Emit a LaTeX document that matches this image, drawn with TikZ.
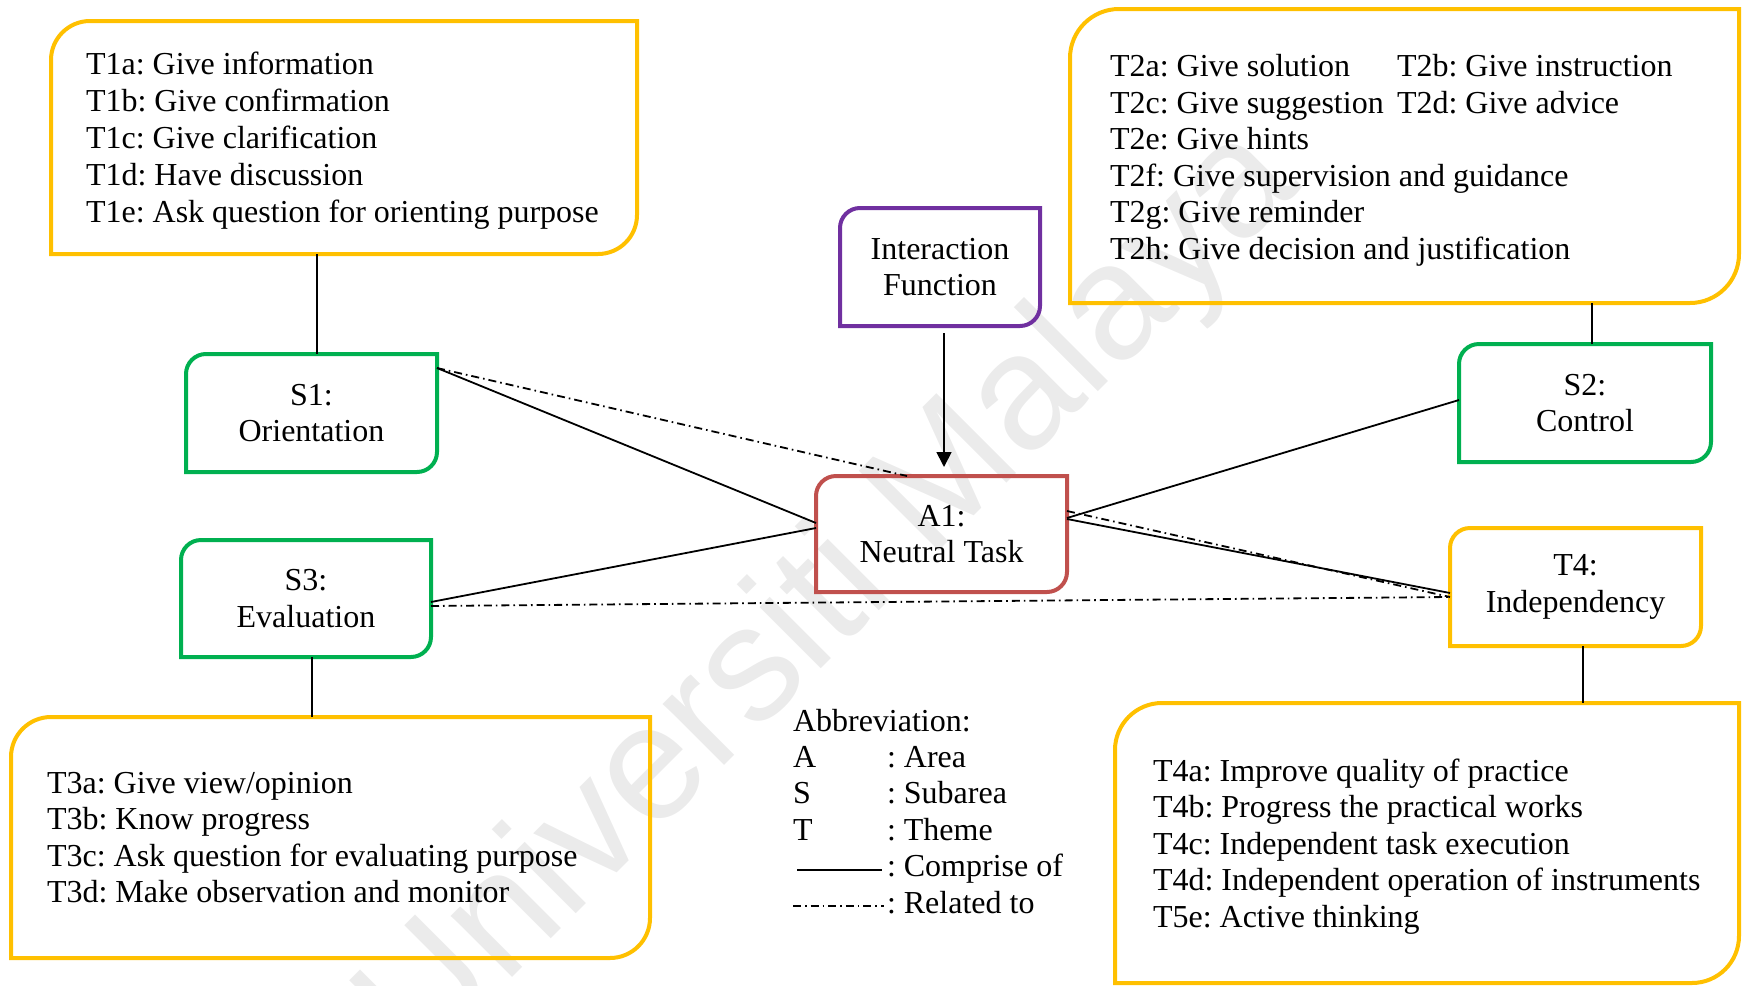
\documentclass[tikz,border=0pt]{standalone}
\usepackage{fontspec}
\setmainfont{Liberation Serif}
\newfontfamily\wmfont{Liberation Sans}
\usetikzlibrary{calc,fit,arrows.meta}
\definecolor{themeyellow}{HTML}{FFC000}
\definecolor{themegreen}{HTML}{00B050}
\definecolor{themepurple}{HTML}{7030A0}
\definecolor{themered}{HTML}{C0504D}
\frenchspacing

% outline with the top-left and bottom-right corners rounded
% #1 node name, #2 corner radius (px), #3 colour
\newcommand\diagbox[3]{%
  \draw[boxline,#3]
    (#1.south west) -- ($(#1.north west)+(0,#2)$)
    .. controls ($(#1.north west)+(0,0.448*#2)$) and ($(#1.north west)+(0.448*#2,0)$) ..
    ($(#1.north west)+(#2,0)$) -- (#1.north east) -- ($(#1.south east)+(0,-#2)$)
    .. controls ($(#1.south east)+(0,-0.448*#2)$) and ($(#1.south east)+(-0.448*#2,0)$) ..
    ($(#1.south east)+(-#2,0)$) -- cycle;}

\begin{document}
\begin{tikzpicture}[x=0.5pt,y=-0.5pt,
  font=\fontsize{16}{18.2}\selectfont,
  area/.style={inner sep=0pt, outer sep=0pt},
  boxtext/.style={align=center, inner sep=0pt, outer sep=0pt},
  boxline/.style={line width=2pt, line join=miter},
  comprise/.style={line width=0.9pt},
  related/.style={line width=0.9pt, dash pattern=on 4pt off 2pt on 0.8pt off 2pt},
  itemtext/.style={anchor=base west, inner sep=0pt, outer sep=0pt},
  arrowline/.style={line width=0.9pt, -{Triangle[length=7.5pt,width=7.5pt]}},
]
\useasboundingbox (0,0) rectangle (1742,986);

% watermark
\begin{scope}
  \clip (0,0) rectangle (1742,986);
  \node[rotate=45, text=black!8, inner sep=0pt,
        font=\wmfont\fontsize{82}{82}\selectfont] (wm) at (832,598) {Universiti Malaya};
\end{scope}

% box frames
\node[area, fit={(51,21) (637,254)}] (t1box) {};
\node[area, fit={(1070,9) (1739,303)}] (t2box) {};
\node[area, fit={(11,717) (650,958)}] (t3box) {};
\node[area, fit={(1115,703) (1739,983)}] (t4box) {};
\node[area, fit={(186,354) (437,472)}] (s1) {};
\node[area, fit={(1459,344) (1711,462)}] (s2) {};
\node[area, fit={(181,540) (431,657)}] (s3) {};
\node[area, fit={(1450,528) (1701,646)}] (t4) {};
\node[area, fit={(816,476) (1067,592)}] (a1) {};
\node[area, fit={(840,208) (1040,326)}] (ifn) {};

\diagbox{t1box}{39}{themeyellow}
\diagbox{t2box}{49}{themeyellow}
\diagbox{t3box}{40}{themeyellow}
\diagbox{t4box}{47}{themeyellow}
\diagbox{s1}{20}{themegreen}
\diagbox{s2}{20}{themegreen}
\diagbox{s3}{20}{themegreen}
\diagbox{t4}{20}{themeyellow}
\diagbox{a1}{20}{themered}
\diagbox{ifn}{20}{themepurple}

% box titles
\node[boxtext] (s1txt)  at (s1.center)  {S1:\\Orientation};
\node[boxtext] (s2txt)  at (s2.center)  {S2:\\Control};
\node[boxtext] (s3txt)  at (s3.center)  {S3:\\Evaluation};
\node[boxtext] (t4txt)  at (t4.center)  {T4:\\Independency};
\node[boxtext] (a1txt)  at (a1.center)  {A1:\\Neutral Task};
\node[boxtext] (ifntxt) at (ifn.center) {Interaction\\Function};

% theme lists
\node[itemtext] (t1a) at (86,74)  {T1a: Give information};
\node[itemtext] (t1b) at (86,111) {T1b: Give confirmation};
\node[itemtext] (t1c) at (86,148) {T1c: Give clarification};
\node[itemtext] (t1d) at (86,185) {T1d: Have discussion};
\node[itemtext] (t1e) at (86,222) {T1e: Ask question for orienting purpose};

\node[itemtext] (t2a) at (1110,76)  {T2a: Give solution};
\node[itemtext] (t2b) at (1397,76)  {T2b: Give instruction};
\node[itemtext] (t2c) at (1110,113) {T2c: Give suggestion};
\node[itemtext] (t2d) at (1397,113) {T2d: Give advice};
\node[itemtext] (t2e) at (1110,149) {T2e: Give hints};
\node[itemtext] (t2f) at (1110,186) {T2f: Give supervision and guidance};
\node[itemtext] (t2g) at (1110,222) {T2g: Give reminder};
\node[itemtext] (t2h) at (1110,259) {T2h: Give decision and justification};

\node[itemtext] (t3a) at (47,793)   {T3a: Give view/opinion};
\node[itemtext] (t3b) at (47,829.5) {T3b: Know progress};
\node[itemtext] (t3c) at (47,866)   {T3c: Ask question for evaluating purpose};
\node[itemtext] (t3d) at (47,902)   {T3d: Make observation and monitor};

\node[itemtext] (t4a) at (1153,781)   {T4a: Improve quality of practice};
\node[itemtext] (t4b) at (1153,817.5) {T4b: Progress the practical works};
\node[itemtext] (t4c) at (1153,854)   {T4c: Independent task execution};
\node[itemtext] (t4d) at (1153,890.5) {T4d: Independent operation of instruments};
\node[itemtext] (t5e) at (1153,927)   {T5e: Active thinking};

% vertical links between subareas and their theme lists
\coordinate (c1) at ($(s1.north)+(5.5,0)$);
\coordinate (c2) at ($(s2.north)+(7,0)$);
\coordinate (c3) at ($(s3.south)+(6,0)$);
\coordinate (c4) at ($(t4.south)+(7.5,0)$);
\draw[comprise] (c1) -- (c1 |- t1box.south);
\draw[comprise] (c2) -- (c2 |- t2box.south);
\draw[comprise] (c3) -- (c3 |- t3box.north);
\draw[comprise] (c4) -- (c4 |- t4box.north);

% links around the area node
\draw[comprise] ($(s1.north east)+(0,14)$) -- ($(a1.west)+(0,-11)$);
\draw[related]  ($(s1.north east)+(0,14)$) -- ($(a1.north west)+(91,0)$);
\draw[comprise] ($(s3.east)+(0,3.5)$) -- ($(a1.west)+(0,-6)$);
\draw[related]  ($(s3.east)+(0,7.5)$) -- ($(t4.west)+(0,10)$);
\draw[comprise] ($(a1.east)+(0,-16)$) -- ($(s2.west)+(0,-3)$);
\draw[comprise] ($(a1.east)+(0,-15)$) -- ($(t4.west)+(0,6)$);
\draw[related]  ($(a1.east)+(0,-23)$) -- ($(t4.west)+(0,10)$);
\draw[arrowline] ($(ifn.south)+(4,7)$) -- ($(a1.north)+(2.5,-9)$);

% abbreviations
\node[itemtext] (ab0) at (793,731) {Abbreviation:};
\node[itemtext] (ab1) at (793,767) {A};
\node[itemtext] (ab2) at (793,803) {S};
\node[itemtext] (ab3) at (793,840) {T};
\node[itemtext] (ab1t) at (887,767) {: Area};
\node[itemtext] (ab2t) at (887,803) {: Subarea};
\node[itemtext] (ab3t) at (887,840) {: Theme};
\node[itemtext] (ab4t) at (887,876) {: Comprise of};
\node[itemtext] (ab5t) at (887,913) {: Related to};
\draw[comprise] (797,870) -- (882,870);
\draw[related]  (793,906) -- (884,906);
\end{tikzpicture}
\end{document}
